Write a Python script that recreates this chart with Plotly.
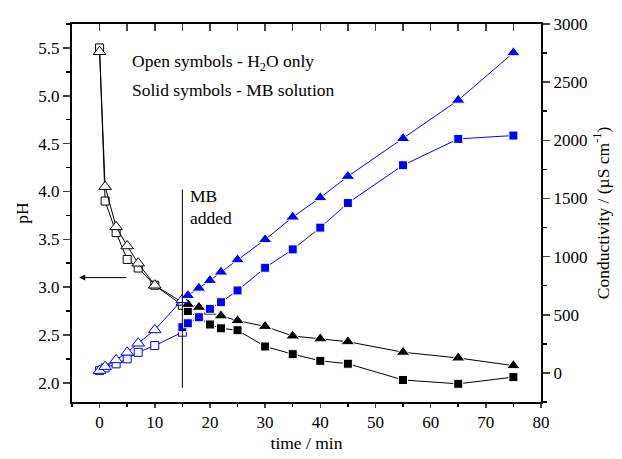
import plotly.graph_objects as go

# ---- data ----
t_open = [0, 1, 3, 5, 7, 10, 15]
ph_open_sq = [5.50, 3.90, 3.57, 3.29, 3.20, 3.02, 2.81]
ph_open_tri = [5.46, 4.05, 3.63, 3.43, 3.25, 3.02, 2.84]
cond_open_sq = [20, 43, 78, 121, 177, 235, 350]
cond_open_tri = [20, 54, 112, 177, 255, 370, 629]

t_solid_sq = [15, 16, 18, 20, 22, 25, 30, 35, 40, 45, 55, 65, 75]
cond_solid_sq = [393, 427, 479, 551, 608, 709, 904, 1062, 1249, 1461, 1786, 2012, 2041]
t_solid_tri = [16, 18, 20, 22, 25, 30, 35, 40, 45, 55, 65, 75]
cond_solid_tri = [666, 729, 795, 867, 973, 1146, 1340, 1507, 1690, 2015, 2345, 2753]

t_solid_ph = [16, 18, 20, 22, 25, 30, 35, 40, 45, 55, 65, 75]
ph_solid_sq = [2.75, 2.68, 2.61, 2.57, 2.55, 2.38, 2.30, 2.23, 2.20, 2.03, 1.99, 2.06]
ph_solid_tri = [2.82, 2.79, 2.74, 2.70, 2.65, 2.59, 2.49, 2.46, 2.43, 2.32, 2.26, 2.18]

x_range = [-5, 80]
ph_range = [1.8, 5.75]
cond_range = [-250, 3000]

BLUE = "#0000FF"
FONT = "Liberation Serif, Times New Roman, serif"

fig = go.Figure()

def add(x, y, sym, color, fill, size, axis, lw=1):
    fig.add_trace(go.Scatter(
        x=x, y=y, mode="lines+markers", yaxis=axis, showlegend=False, hoverinfo="skip",
        line=dict(color=color, width=lw),
        marker=dict(symbol=sym, size=size, color=fill,
                    line=dict(color=color if fill == "white" else "white", width=1)),
    ))

# pH (left)
add(t_open, ph_open_sq, "square", "black", "white", 8, "y")
add(t_open, ph_open_tri, "triangle-up", "black", "white", 11, "y")
add(t_solid_ph, ph_solid_sq, "square", "black", "black", 9, "y")
add(t_solid_ph, ph_solid_tri, "triangle-up", "black", "black", 12, "y")
# conductivity (right)
add(t_open, cond_open_sq, "square", BLUE, "white", 8, "y2")
add(t_open, cond_open_tri, "triangle-up", BLUE, "white", 11, "y2")
add(t_solid_sq, cond_solid_sq, "square", BLUE, BLUE, 9, "y2")
add(t_solid_tri, cond_solid_tri, "triangle-up", BLUE, BLUE, 12, "y2")
# dummy for top axis
fig.add_trace(go.Scatter(x=[None], y=[None], xaxis="x2", showlegend=False))

tickfont = dict(family=FONT, size=17, color="black")
titlefont = dict(family=FONT, size=17.5, color="black")

fig.update_layout(
    width=622, height=459,
    margin=dict(l=72, r=81, t=24, b=57, autoexpand=False),
    paper_bgcolor="white", plot_bgcolor="white",
    font=tickfont, hovermode=False,
    xaxis=dict(range=x_range, dtick=10, tick0=0, ticks="outside", ticklen=4, tickwidth=1.5,
               showline=True, linewidth=2, linecolor="black", showgrid=False, zeroline=False,
               tickfont=tickfont, automargin=False,
               minor=dict(dtick=5, ticklen=3, tickwidth=1.5, ticks="outside", tickcolor="black"),
               title=dict(text="time / min", font=titlefont, standoff=5)),
    xaxis2=dict(range=x_range, overlaying="x", side="top", dtick=5, tick0=0, ticks="inside",
                ticklen=7, tickwidth=1.5, showline=True, linewidth=2, linecolor="black",
                showticklabels=False, showgrid=False, zeroline=False, automargin=False),
    yaxis=dict(range=ph_range, dtick=0.5, tick0=2, ticks="outside", ticklen=7, tickwidth=1.5,
               tickformat=".1f", automargin=False,
               showline=True, linewidth=2, linecolor="black", showgrid=False, zeroline=False,
               tickfont=tickfont,
               minor=dict(dtick=0.25, ticklen=4, tickwidth=1.5, ticks="outside", tickcolor="black"),
               title=dict(text="pH", font=titlefont, standoff=5)),
    yaxis2=dict(range=cond_range, overlaying="y", side="right", dtick=500, tick0=0,
                ticks="outside", ticklen=7, tickwidth=1.5, automargin=False,
                showline=True, linewidth=2, linecolor="black", showgrid=False, zeroline=False,
                tickfont=tickfont,
                minor=dict(dtick=250, ticklen=4, tickwidth=1.5, ticks="outside", tickcolor="black"),
                title=dict(text="Conductivity / (µS cm<sup>-1</sup>)", font=titlefont, standoff=10)),
)

# vertical "MB added" line
fig.add_shape(type="line", xref="x", yref="y", x0=15, x1=15, y0=1.95, y1=4.02,
              line=dict(color="black", width=1))
# arrow pointing at left axis
fig.add_annotation(xref="x", yref="y", x=-3.7, y=3.1, ax=5.1, ay=3.1, axref="x", ayref="y",
                   showarrow=True, arrowhead=2, arrowsize=1.2, arrowwidth=1, arrowcolor="black", text="")

def px2paper(px, py):
    return (px - 72.3) / (540.7 - 72.3), (401.7 - py) / (401.7 - 24)

for txt, px, py in [("Open symbols - H<sub>2</sub>O only", 130, 62),
                    ("Solid symbols - MB solution", 130, 90),
                    ("MB", 188, 196), ("added", 188, 218)]:
    xp, yp = px2paper(px, py)
    fig.add_annotation(xref="paper", yref="paper", x=xp, y=yp, text=txt, showarrow=False,
                       xanchor="left", yanchor="middle", font=titlefont)

fig.write_html("out.html", post_script="document.body.style.margin='0';",
               config={"displayModeBar": False, "staticPlot": True})
